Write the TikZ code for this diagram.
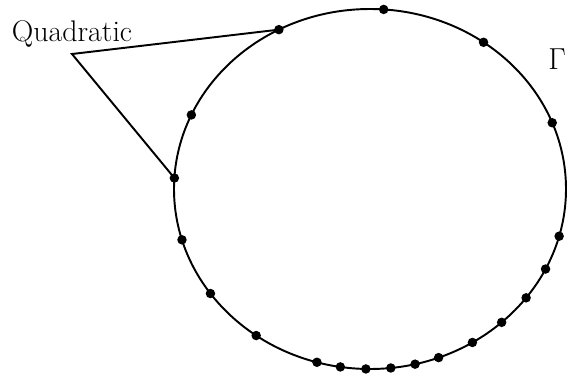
\documentclass[tikz,border=0pt]{standalone}
\usetikzlibrary{calc}
\tikzset{
  curve/.style={line width=1.1pt},
  dot/.style={circle, fill=black, inner sep=0pt, minimum size=5.4pt},
  leader/.style={line width=1.1pt},
}
\begin{document}
\begin{tikzpicture}[x=0.02cm, y=0.02cm]
  \useasboundingbox (0,0) rectangle (568,376);
  % kapali egri
  \coordinate (c) at (370,187);
  \draw[curve] (c) ellipse [x radius=196, y radius=180];
  % egri uzerindeki noktalar
  \foreach \t [count=\i] in {86,54.6,21.6,-15.2,-26.4,-37.2,-47.8,-58.5,-69.5,-76.7,
      -83.9,-91.2,-98.7,-105.7,-125.5,-144.5,-163.6,176.5,155.7,117.7}
    \node[dot] (p\i) at ($(c)+(\t:196 and 180)$) {};
  % etiketler
  \node[font=\fontsize{17}{20}\selectfont] (quad) at (72,342) {Quadratic};
  \node[font=\fontsize{18}{22}\selectfont] (gam) at (557,317) {$\Gamma$};
  \coordinate (corner) at (72,322);
  \draw[leader, line join=miter] (p20.center) -- (corner) -- (p18.center);
\end{tikzpicture}
\end{document}
